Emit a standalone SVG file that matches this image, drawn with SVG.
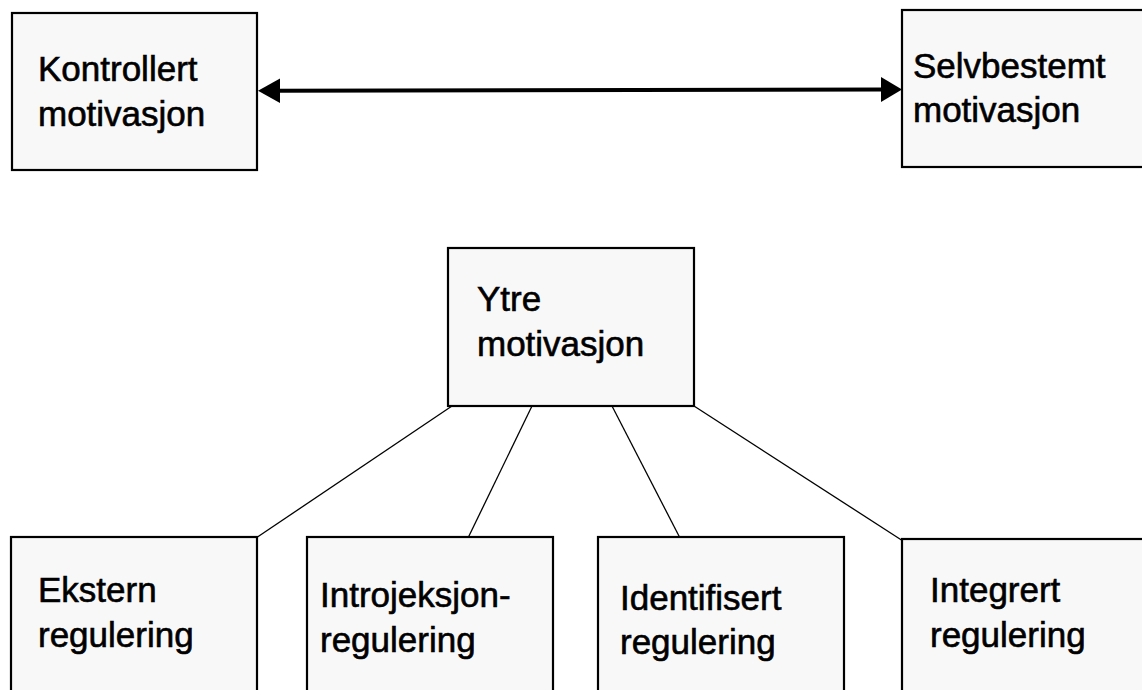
<svg xmlns="http://www.w3.org/2000/svg" width="1142" height="690" viewBox="0 0 1142 690">
<style>
.box{fill:#f8f8f8;stroke:#000;stroke-width:2.2}
.t{font-family:"Liberation Sans",Arial,sans-serif;font-size:35px;fill:#000;stroke:#000;stroke-width:0.6}
.c{stroke:#000;stroke-width:1.3;fill:none}
.a{stroke:#000;stroke-width:4;fill:none}
</style>
<rect width="1142" height="690" fill="#fff"/>
<g id="connectors">
<line class="a" x1="276" y1="90.8" x2="884" y2="89.6"/>
<polygon points="258,90.8 280,78.5 280,103" fill="#000"/>
<polygon points="902,89.6 881,77 881,102" fill="#000"/>
<line class="c" x1="452" y1="406" x2="256" y2="538"/>
<line class="c" x1="532" y1="406" x2="468" y2="538"/>
<line class="c" x1="612" y1="406" x2="680" y2="538"/>
<line class="c" x1="694" y1="406" x2="903" y2="541"/>
</g>
<g id="kontrollert">
<rect class="box" x="12" y="13" width="245" height="157"/>
<text class="t" x="38" y="81">Kontrollert</text>
<text class="t" x="38" y="126">motivasjon</text>
</g>
<g id="selvbestemt">
<rect class="box" x="902" y="10" width="260" height="157"/>
<text class="t" x="913" y="78">Selvbestemt</text>
<text class="t" x="913" y="122">motivasjon</text>
</g>
<g id="ytre">
<rect class="box" x="448" y="248" width="246" height="158"/>
<text class="t" x="477" y="311">Ytre</text>
<text class="t" x="477" y="356">motivasjon</text>
</g>
<g id="ekstern">
<rect class="box" x="11" y="537" width="246" height="170"/>
<text class="t" x="38" y="602">Ekstern</text>
<text class="t" x="38" y="647">regulering</text>
</g>
<g id="introjeksjon">
<rect class="box" x="307" y="537" width="246" height="170"/>
<text class="t" x="320" y="607">Introjeksjon-</text>
<text class="t" x="320" y="652">regulering</text>
</g>
<g id="identifisert">
<rect class="box" x="598" y="537" width="246" height="170"/>
<text class="t" x="620" y="610">Identifisert</text>
<text class="t" x="620" y="654">regulering</text>
</g>
<g id="integrert">
<rect class="box" x="902" y="539" width="260" height="170"/>
<text class="t" x="930" y="602">Integrert</text>
<text class="t" x="930" y="647">regulering</text>
</g>
</svg>
